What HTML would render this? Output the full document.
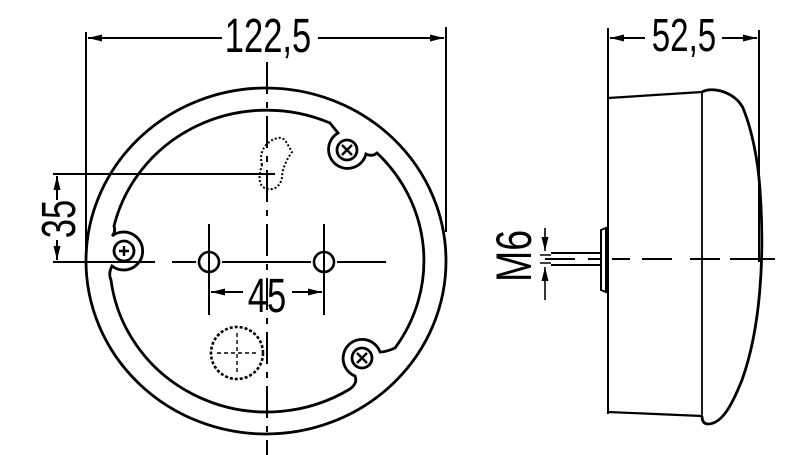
<!DOCTYPE html>
<html><head><meta charset="utf-8"><style>html,body{margin:0;padding:0;background:#fff}svg{display:block}</style></head><body>
<svg width="800" height="455" viewBox="0 0 800 455" xmlns="http://www.w3.org/2000/svg" font-family="'Liberation Sans Narrow','Liberation Sans',sans-serif">
<defs>
<marker id="ar" viewBox="0 0 14 7" refX="14" refY="3.5" markerWidth="14" markerHeight="7" orient="auto" markerUnits="userSpaceOnUse"><path d="M0,0 L14,3.5 L0,7z" fill="#000"/></marker>
</defs>
<g stroke="#000" fill="none" stroke-width="2.2">
<!-- left view -->
<ellipse cx="266" cy="261" rx="180" ry="173" stroke-width="2.8"/>
<path d="M114,226 Q116,232 112,236 A19,19 0 1 1 112,266 Q108,274 111,280 A157,151 0 0 0 350,389 Q358,383 355,376 A19,19 0 1 1 380,352 Q386,352 395,348 A157,151 0 0 0 377,153 Q372,157 366,154 A19,19 0 1 1 338,133 Q334,128 330,123 A157,151 0 0 0 114,226Z" stroke-width="2.8"/>
<circle cx="124" cy="251" r="10" stroke-width="2.8"/><circle cx="347" cy="150" r="10" stroke-width="2.8"/><circle cx="362" cy="358" r="10" stroke-width="2.8"/>
<path d="M119,251h10M124,246v10M342,145l10,10M352,145l-10,10M357,353l10,10M367,353l-10,10" stroke-width="2.4"/>
<circle cx="209" cy="262" r="10" stroke-width="2.6"/><circle cx="324" cy="262" r="10" stroke-width="2.6"/>
<path d="M267,62V455" stroke-dasharray="32,8,6,8" stroke-width="2"/>
<path d="M53,262H155M172,262H196M222,262H311M337,262H386" stroke-width="2"/>
<path d="M209,224V315M324,224V315" stroke-width="2"/>
<path d="M86,32V262M446,27V232" stroke-width="2"/>
<path d="M222,38H88" stroke-width="2" marker-end="url(#ar)"/>
<path d="M318,38H444" stroke-width="2" marker-end="url(#ar)"/>
<path d="M243,292H211" stroke-width="2" marker-end="url(#ar)"/>
<path d="M292,292H322" stroke-width="2" marker-end="url(#ar)"/>
<path d="M53,174H275" stroke-width="2"/>
<path d="M57,200V176" stroke-width="2" marker-end="url(#ar)"/>
<path d="M57,240V260" stroke-width="2" marker-end="url(#ar)"/>
<path d="M262,165C258,150 268,140 278,138C283,137 285,140 288,145L292,152C286,160 282,170 282,178C280,186 275,190 268,189C260,188 257,180 262,165Z" stroke-width="2" stroke-dasharray="2,2"/>
<circle cx="237" cy="353" r="26" stroke-width="2.6" stroke-dasharray="3,2"/>
<path d="M217,353H257M237,333V373" stroke-width="1.4" stroke-dasharray="4,3"/>
<!-- right view -->
<path d="M608,28V414M759,30V262" stroke-width="2"/>
<path d="M645,38H610" stroke-width="2" marker-end="url(#ar)"/>
<path d="M722,38H757" stroke-width="2" marker-end="url(#ar)"/>
<path d="M608,98L702,92M608,412L702,416" stroke-width="2.2"/>
<path d="M702,92V418" stroke-width="1.8"/>
<path d="M702,92C712,86 735,92 743,108C752,130 758,160 760,190C765,260 760,330 742,380C732,405 722,424 708,424C703,424 702,420 702,416" stroke-width="2.8"/>
<path d="M545,259H575M588,259H601M612,259H630M642,259H672M690,259H720M730,259H775" stroke-width="2"/>
<path d="M601,230L606,228V292L601,290Z" stroke-width="2"/>
<path d="M551,253H601M551,265H601" stroke-width="2"/>
<path d="M545,228V251" stroke-width="1.6" marker-end="url(#ar)"/>
<path d="M545,300V267" stroke-width="1.6" marker-end="url(#ar)"/>
<path d="M540,255H551M540,263H551" stroke-width="1.6"/>
</g>
<g fill="#000" font-size="48">
<text x="268" y="52" text-anchor="middle" transform="translate(268 0) scale(0.72 1) translate(-268 0)">122,5</text>
<text x="267" y="312" text-anchor="middle" transform="translate(267 0) scale(0.72 1) translate(-267 0)">45</text>
<text x="684" y="51" text-anchor="middle" font-size="46" transform="translate(684 0) scale(0.72 1) translate(-684 0)">52,5</text>
<text transform="translate(75 219) rotate(-90) scale(0.72 1)" text-anchor="middle">35</text>
<text transform="translate(531 256) rotate(-90) scale(0.75 1)" text-anchor="middle" font-size="50">M6</text>
</g>
</svg>
</body></html>
